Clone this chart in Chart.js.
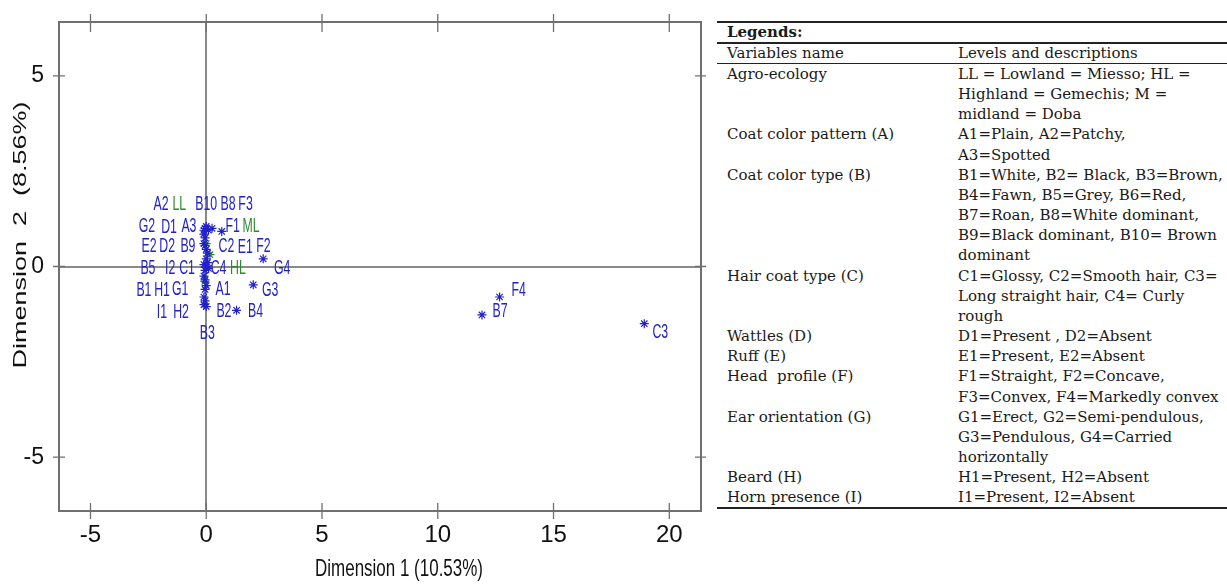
<!DOCTYPE html>
<html><head><meta charset="utf-8">
<script src="https://cdn.jsdelivr.net/npm/chart.js@4.4.0/dist/chart.umd.min.js"></script>
<style>
html,body{margin:0;padding:0;background:#fff;width:1227px;height:584px;overflow:hidden}
#wrap{position:absolute;left:0;top:0;width:715px;height:584px}
#legend{position:absolute;left:717px;top:21px;width:510px;font-family:'DejaVu Serif','Liberation Serif',serif;font-size:15px;color:#1a1a1a}
#legend table{border-collapse:collapse;width:510px;white-space:nowrap}
#legend td{padding:0;vertical-align:top;line-height:20.15px}
#legend td.c1{padding-left:10px;width:231px}
#legend tr.h0 td{border-top:2px solid #222;border-bottom:2px solid #222;line-height:19px;font-weight:bold}
#legend tr.h1 td{border-bottom:1px solid #222;line-height:19px}
#legend tr.last td{border-bottom:2px solid #222}
</style></head>
<body>
<div id="wrap"><canvas id="c" width="715" height="584"></canvas></div>
<div id="legend"><table>
<tr class="h0"><td colspan="2" style="padding-left:10px">Legends:</td></tr>
<tr class="h1"><td class="c1">Variables name</td><td>Levels and descriptions</td></tr>
<tr><td class="c1">Agro-ecology</td><td>LL = Lowland = Miesso; HL =<br>Highland = Gemechis; M =<br>midland = Doba</td></tr>
<tr><td class="c1">Coat color pattern (A)</td><td>A1=Plain, A2=Patchy,<br>A3=Spotted</td></tr>
<tr><td class="c1">Coat color type (B)</td><td>B1=White, B2= Black, B3=Brown,<br>B4=Fawn, B5=Grey, B6=Red,<br>B7=Roan, B8=White dominant,<br>B9=Black dominant, B10= Brown<br>dominant</td></tr>
<tr><td class="c1">Hair coat type (C)</td><td>C1=Glossy, C2=Smooth hair, C3=<br>Long straight hair, C4= Curly<br>rough</td></tr>
<tr><td class="c1">Wattles (D)</td><td>D1=Present , D2=Absent</td></tr>
<tr><td class="c1">Ruff (E)</td><td>E1=Present, E2=Absent</td></tr>
<tr><td class="c1">Head&nbsp; profile (F)</td><td>F1=Straight, F2=Concave,<br>F3=Convex, F4=Markedly convex</td></tr>
<tr><td class="c1">Ear orientation (G)</td><td>G1=Erect, G2=Semi-pendulous,<br>G3=Pendulous, G4=Carried<br>horizontally</td></tr>
<tr><td class="c1">Beard (H)</td><td>H1=Present, H2=Absent</td></tr>
<tr class="last"><td class="c1">Horn presence (I)</td><td>I1=Present, I2=Absent</td></tr>
</table></div>
<script>
// ---- data ----
const categoryLabels = ['A2','B10','B8','F3','G2','D1','A3','F1','E2','D2','B9','C2','E1','F2','B5','I2','C1','C4','G4','B1','H1','G1','A1','G3','I1','H2','B2','B4','B3','F4','B7','C3'];
const categoryDim1 = [-0.05,0.0,0.25,0.1,-0.1,-0.05,-0.1,0.67,-0.05,0.0,-0.1,0.05,0.0,0.05,-0.1,0.0,-0.05,0.1,2.46,-0.1,-0.05,0.0,-0.05,2.03,-0.1,-0.05,-0.1,1.31,0.0,12.67,11.91,18.92];
const categoryDim2 = [1.0,1.05,1.0,0.95,0.85,0.75,0.95,0.92,0.55,0.45,0.6,0.35,0.2,0.1,0.05,0.0,-0.1,-0.05,0.2,-0.25,-0.35,-0.5,-0.6,-0.48,-0.8,-0.9,-1.0,-1.15,-1.05,-0.8,-1.27,-1.5];
const agroLabels = ['LL','ML','HL'];
const agroDim1 = [0.0,0.16,-0.06];
const agroDim2 = [0.6,0.31,-0.39];
const xTicks = [-5,0,5,10,15,20];
const yTicks = [-5,0,5];
const xTitle = 'Dimension 1 (10.53%)';
const yTitle = 'Dimension  2  (8.56%)';

// ---- label placement (pixel offsets from marker) ----
const labelOffset = {
  A2:[-44,-24], LL:[-27,-39], B10:[0,-22], B8:[16,-24], F3:[37,-26],
  G2:[-57,-8], D1:[-36,-11], A3:[-15,-4], F1:[11,-5], ML:[41,-28],
  E2:[-56,1], D2:[-39,-3], B9:[-16,3], C2:[19,-7], E1:[39,-12], F2:[56,-16],
  B5:[-56,4], I2:[-36,2], C1:[-18,-2], C4:[10,0], HL:[33,-13], G4:[19,9],
  B1:[-60,14], H1:[-43,10], G1:[-26,4], A1:[18,0], G3:[17,5],
  I1:[-42,15], H2:[-24,11], B2:[20,7], B4:[19,1], B3:[1,27],
  F4:[19,-7], B7:[18,-4], C3:[16,8]
};
const BLUE = '#2222c8', GREEN = '#2e8b2e', FRAME = '#707070';
const sansFont = "'Liberation Sans', Arial, sans-serif";

const catPts = categoryLabels.map((l,i)=>({x:categoryDim1[i], y:categoryDim2[i], label:l}));
const agroPts = agroLabels.map((l,i)=>({x:agroDim1[i], y:agroDim2[i], label:l}));

function stretchedText(ctx, text, x, y, sx, sy, rot){
  ctx.save(); ctx.translate(x,y); if(rot) ctx.rotate(rot); ctx.scale(sx,sy);
  ctx.fillText(text,0,0); ctx.restore();
}

const framePlugin = {
  id:'frame',
  beforeDatasetsDraw(chart){
    const {ctx, chartArea:a, scales:{x,y}} = chart;
    ctx.save();
    ctx.strokeStyle = '#8a8a8a'; ctx.lineWidth = 2;
    const x0 = Math.round(x.getPixelForValue(0)), y0 = Math.round(y.getPixelForValue(0));
    ctx.beginPath(); ctx.moveTo(x0,a.top); ctx.lineTo(x0,a.bottom); ctx.moveTo(a.left,y0); ctx.lineTo(a.right,y0); ctx.stroke();
    ctx.strokeStyle = FRAME; ctx.lineWidth = 2;
    ctx.strokeRect(a.left,a.top,a.right-a.left,a.bottom-a.top);
    ctx.lineWidth = 1.3; ctx.beginPath();
    xTicks.forEach(v=>{const p=x.getPixelForValue(v); ctx.moveTo(p,a.top-8); ctx.lineTo(p,a.top+10); ctx.moveTo(p,a.bottom-8); ctx.lineTo(p,a.bottom+8);});
    yTicks.forEach(v=>{const p=y.getPixelForValue(v); ctx.moveTo(a.left-6,p); ctx.lineTo(a.left+6,p); ctx.moveTo(a.right-6,p); ctx.lineTo(a.right+5,p);});
    ctx.stroke();
    ctx.restore();
  },
  afterDatasetsDraw(chart){
    const {ctx} = chart;
    ctx.save();
    ctx.textAlign='center'; ctx.textBaseline='middle';
    ctx.font = '14px ' + sansFont;
    chart.data.datasets.forEach((ds,di)=>{
      const meta = chart.getDatasetMeta(di);
      ctx.fillStyle = ds.labelColor;
      meta.data.forEach((el,i)=>{
        const lab = ds.data[i].label; const off = labelOffset[lab]||[12,0];
        stretchedText(ctx, lab, el.x+off[0], el.y+off[1], 0.88, 1.5);
      });
    });
    ctx.fillStyle = '#111';
    ctx.font = '17.5px ' + sansFont;
    stretchedText(ctx, xTitle, 399, 569, 0.97, 1.4);
    ctx.font = '19px ' + sansFont;
    stretchedText(ctx, yTitle, 21, 235, 1.42, 1, -Math.PI/2);
    ctx.restore();
  }
};

new Chart(document.getElementById('c'), {
  type:'scatter',
  data:{datasets:[
    {label:'Variables', data:catPts, pointStyle:'star', radius:4.5, borderColor:BLUE, backgroundColor:BLUE, borderWidth:1.2, labelColor:BLUE},
    {label:'Agro-ecology', data:agroPts, pointStyle:'star', radius:4.5, borderColor:GREEN, backgroundColor:GREEN, borderWidth:1.2, labelColor:GREEN}
  ]},
  options:{
    responsive:false, animation:false, devicePixelRatio:1,
    layout:{padding:{top:22,right:14,left:0,bottom:0}},
    plugins:{legend:{display:false}, tooltip:{enabled:false}},
    scales:{
      x:{type:'linear', min:-6.36, max:21.37, grid:{display:false}, border:{display:false},
         afterBuildTicks:s=>{s.ticks = xTicks.map(v=>({value:v}));},
         afterFit:s=>{s.height=73;},
         ticks:{includeBounds:false, autoSkip:false, maxRotation:0, padding:2, color:'#111', font:{family:"'Liberation Sans Narrow','Liberation Sans',Arial,sans-serif", size:24}}},
      y:{type:'linear', min:-6.41, max:6.41, grid:{display:false}, border:{display:false},
         afterBuildTicks:s=>{s.ticks = yTicks.map(v=>({value:v}));},
         afterFit:s=>{s.width=59;},
         ticks:{includeBounds:false, autoSkip:false, padding:7, color:'#111', font:{family:sansFont, size:23}}}
    }
  },
  plugins:[framePlugin]
});
</script>
</body></html>
